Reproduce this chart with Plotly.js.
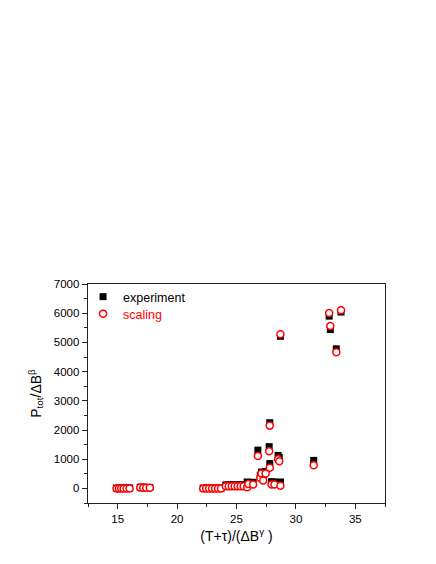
<!DOCTYPE html>
<html>
<head>
<meta charset="utf-8">
<script src="https://cdn.plot.ly/plotly-3.0.1.min.js"></script>
<style>html,body{margin:0;padding:0;background:#fff;}#chart{width:436px;height:564px;}</style>
</head>
<body>
<div id="chart"></div>
<script>
// x values: (T+tau)/(dB^gamma)
var xVals = [14.9, 15.1, 15.3, 15.5, 15.75, 16.0,
  16.9, 17.15, 17.4, 17.7,
  22.2, 22.45, 22.7, 22.95, 23.2, 23.45, 23.7,
  24.1, 24.35, 24.6, 24.85, 25.1, 25.35, 25.6,
  25.9, 26.0, 26.4, 26.8, 27.0, 27.1, 27.25, 27.45,
  27.75, 27.8, 27.8, 27.95, 28.2, 28.5, 28.6, 28.7, 28.7,
  31.5, 32.8, 32.9, 33.4, 33.8];
// experiment: P_tot / dB^beta
var expVals = [10, 10, 10, 12, 15, 15,
  40, 40, 35, 30,
  10, 10, 10, 10, 10, 10, 10,
  120, 120, 120, 120, 120, 120, 120,
  220, 200, 210, 1310, 450, 560, 300, 580,
  1430, 2250, 850, 230, 220, 1130, 1060, 220, 5210,
  960, 5900, 5440, 4780, 6040];
// scaling
var scaleVals = [0, 0, 0, 0, 0, 0,
  30, 25, 20, 20,
  0, 0, 0, 0, 0, 0, 0,
  70, 70, 70, 70, 70, 70, 70,
  40, 150, 130, 1110, 360, 510, 270, 510,
  1270, 2150, 710, 130, 130, 1000, 930, 90, 5280,
  790, 6010, 5560, 4660, 6100];
var seriesNames = ['experiment', 'scaling'];

var font = 'Arial, "Liberation Sans", sans-serif';
var traces = [
  {x: xVals, y: expVals, type: 'scatter', mode: 'markers', name: seriesNames[0], legend: 'legend',
   marker: {symbol: 'square', size: 7, color: '#000000', line: {width: 0}}},
  {x: xVals, y: scaleVals, type: 'scatter', mode: 'markers', legend: 'legend2',
   name: '<span style="color:#ff0000">' + seriesNames[1] + '</span>',
   marker: {symbol: 'circle', size: 7, color: '#ffffff', line: {color: '#ff0000', width: 1.5}}}
];
var axisCommon = {
  showgrid: false, zeroline: false, showline: true, mirror: true,
  linecolor: '#222222', linewidth: 1.3,
  ticks: 'outside', ticklen: 5, tickwidth: 1, tickcolor: '#222222',
  tickfont: {family: font, size: 11.5, color: '#000'}
};
var legendCommon = {xanchor: 'left', yanchor: 'top', bgcolor: 'rgba(0,0,0,0)',
  font: {family: font, size: 12.5, color: '#000'}};
var layout = {
  width: 436, height: 564,
  margin: {l: 88, r: 51, t: 284, b: 61},
  paper_bgcolor: '#ffffff', plot_bgcolor: '#ffffff',
  font: {family: font, color: '#000'},
  showlegend: true,
  legend: Object.assign({}, legendCommon, {x: -0.0166, y: 1.009}),
  legend2: Object.assign({}, legendCommon, {x: -0.0166, y: 0.9315}),
  xaxis: Object.assign({}, axisCommon, {
    range: [12.5, 37.5], dtick: 5, tick0: 0,
    minor: {dtick: 2.5, ticks: 'outside', ticklen: 3, tickcolor: '#222222'},
    title: {text: '(T+τ)/(ΔB<sup>γ</sup> )', font: {family: font, size: 14, color: '#000'}, standoff: 7}
  }),
  yaxis: Object.assign({}, axisCommon, {
    range: [-500, 7000], dtick: 1000, tick0: 0,
    minor: {dtick: 500, ticks: 'outside', ticklen: 3, tickcolor: '#222222'},
    title: {text: 'P<sub>tot</sub>/ΔB<sup>β</sup>', font: {family: font, size: 14, color: '#000'}, standoff: 9}
  })
};
Plotly.newPlot('chart', traces, layout, {displayModeBar: false, staticPlot: true});
</script>
</body>
</html>
